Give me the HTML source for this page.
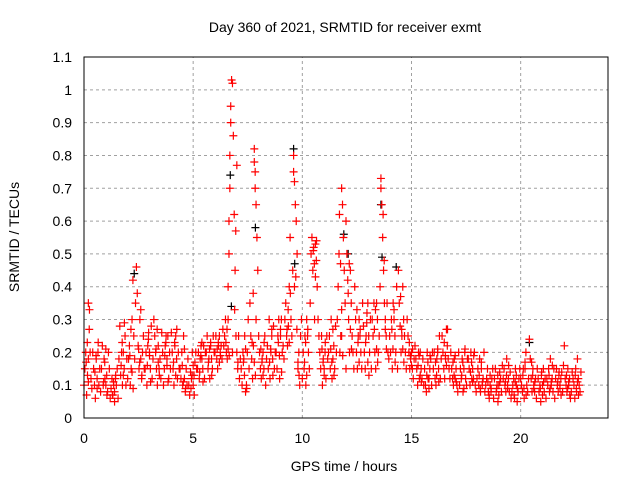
<!DOCTYPE html>
<html><head><meta charset="utf-8"><style>
body{margin:0;background:#fff}
svg{display:block;font-family:"Liberation Sans",sans-serif}
</style></head><body>
<svg id="chart" width="640" height="480">
<text x="345" y="32" text-anchor="middle" font-size="14">Day 360 of 2021, SRMTID for receiver exmt</text>
<text x="344" y="471" text-anchor="middle" font-size="14">GPS time / hours</text>
<text transform="translate(19,237) rotate(-90)" text-anchor="middle" font-size="14">SRMTID / TECUs</text>
<g id="grid"></g><g id="ticks"></g><g id="marks"></g>
<rect x="84" y="57" width="524" height="361" fill="none" stroke="#000" stroke-width="1"/>
</svg>
<script>
const xTicks=[0,5,10,15,20];
const yTicks=[0,0.1,0.2,0.3,0.4,0.5,0.6,0.7,0.8,0.9,1,1.1];
const yTickLabels=["0","0.1","0.2","0.3","0.4","0.5","0.6","0.7","0.8","0.9","1","1.1"];
const groupTimes=[0,0.2,0.4,0.6,0.8,1.0,1.2,1.4,1.6,1.8,2.0,2.2,2.4,2.6,2.8,3.0,3.2,3.4,3.6,3.8,4.0,4.2,4.4,4.6,4.8,5.0,5.2,5.4,5.6,5.8,6.0,6.2,6.4,6.6,6.8,7.0,7.2,7.4,7.6,7.8,8.0,8.2,8.4,8.6,8.8,9.0,9.2,9.4,9.6,9.8,10.0,10.2,10.4,10.6,10.8,11.0,11.2,11.4,11.6,11.8,12.0,12.2,12.4,12.6,12.8,13.0,13.2,13.4,13.6,13.8,14.0,14.2,14.4,14.6,14.8,15.0,15.2,15.4,15.6,15.8,16.0,16.2,16.4,16.6,16.8,17.0,17.2,17.4,17.6,17.8,18.0,18.2,18.4,18.6,18.8,19.0,19.2,19.4,19.6,19.8,20.0,20.2,20.4,20.6,20.8,21.0,21.2,21.4,21.6,21.8,22.0,22.2,22.4,22.6];
const groupValues=[
[0.1,0.15,0.2,0.07,0.13],[0.35,0.27,0.2,0.12,0.09,0.18],[0.2,0.15,0.1,0.06,0.18],[0.12,0.2,0.1,0.15,0.08],[0.15,0.22,0.1,0.18,0.12],
[0.1,0.13,0.08,0.2,0.15],[0.06,0.09,0.12,0.07,0.1],[0.08,0.12,0.1,0.15,0.06],[0.18,0.28,0.13,0.2,0.1],[0.2,0.15,0.25,0.1,0.18],
[0.12,0.18,0.22,0.1,0.15],[0.3,0.42,0.25,0.18,0.35],[0.46,0.38,0.22,0.15,0.3],[0.18,0.12,0.2,0.25,0.15],[0.15,0.2,0.1,0.22,0.26],
[0.2,0.15,0.28,0.12,0.18],[0.3,0.25,0.2,0.15,0.1],[0.22,0.15,0.18,0.12,0.26],[0.2,0.1,0.15,0.22,0.25],[0.18,0.25,0.12,0.2,0.15],
[0.26,0.2,0.15,0.1,0.22],[0.25,0.18,0.12,0.2,0.15],[0.15,0.12,0.2,0.1,0.25],[0.12,0.08,0.15,0.1,0.18],[0.1,0.07,0.14,0.12,0.2],
[0.1,0.13,0.17,0.2,0.15],[0.15,0.2,0.12,0.18,0.22],[0.18,0.15,0.22,0.12,0.2],[0.2,0.25,0.15,0.18,0.12],[0.22,0.18,0.15,0.25,0.2],
[0.2,0.25,0.18,0.15,0.22],[0.25,0.2,0.22,0.18,0.27],[0.22,0.25,0.3,0.2,0.18],[0.4,0.6,0.8,0.95,1.03,0.3,0.5,0.7,0.9],[1.02,0.86,0.62,0.45,0.25,0.2],
[0.2,0.15,0.25,0.12,0.18],[0.15,0.1,0.2,0.18,0.25],[0.08,0.1,0.2,0.3,0.15],[0.35,0.25,0.18,0.12,0.22],[0.82,0.75,0.65,0.55,0.45,0.78,0.7,0.3],
[0.25,0.2,0.15,0.12,0.18],[0.2,0.15,0.25,0.1,0.18],[0.22,0.15,0.3,0.12,0.2],[0.25,0.18,0.28,0.15,0.2],[0.2,0.15,0.25,0.3,0.12],
[0.25,0.3,0.2,0.22,0.18],[0.3,0.35,0.25,0.22,0.28],[0.4,0.55,0.3,0.25,0.45],[0.8,0.72,0.65,0.6,0.5,0.75,0.4],[0.15,0.2,0.1,0.25,0.3],
[0.12,0.2,0.15,0.25,0.1],[0.3,0.25,0.2,0.15,0.35],[0.5,0.55,0.45,0.52,0.3],[0.53,0.48,0.4,0.3,0.25],[0.2,0.15,0.25,0.1,0.18],
[0.15,0.2,0.12,0.25,0.18],[0.2,0.25,0.15,0.3,0.12],[0.18,0.22,0.15,0.28,0.2],[0.3,0.4,0.5,0.2,0.25],[0.7,0.65,0.55,0.45,0.35,0.25],
[0.6,0.5,0.42,0.3,0.2,0.15],[0.45,0.35,0.25,0.2,0.15],[0.4,0.3,0.2,0.15,0.25],[0.3,0.25,0.2,0.15,0.35],[0.28,0.2,0.15,0.25,0.32],
[0.35,0.25,0.2,0.3,0.15],[0.3,0.25,0.35,0.2,0.15],[0.35,0.3,0.2,0.25,0.4],[0.73,0.65,0.55,0.45,0.35,0.7],[0.3,0.25,0.35,0.2,0.18],
[0.25,0.2,0.3,0.15,0.35],[0.3,0.25,0.2,0.4,0.15],[0.45,0.35,0.28,0.2,0.25],[0.4,0.3,0.25,0.2,0.15],[0.3,0.25,0.2,0.15,0.18],
[0.2,0.15,0.12,0.18,0.22],[0.18,0.15,0.1,0.2,0.12],[0.2,0.15,0.12,0.18,0.1],[0.15,0.1,0.08,0.2,0.12],[0.12,0.15,0.18,0.1,0.2],
[0.15,0.2,0.12,0.1,0.18],[0.2,0.15,0.25,0.12,0.18],[0.25,0.2,0.15,0.12,0.18],[0.27,0.22,0.18,0.15,0.12],[0.2,0.15,0.12,0.1,0.18],
[0.12,0.15,0.1,0.08,0.2],[0.1,0.15,0.12,0.18,0.08],[0.15,0.2,0.12,0.1,0.18],[0.18,0.15,0.1,0.2,0.12],[0.15,0.12,0.2,0.1,0.08],
[0.12,0.15,0.1,0.18,0.08],[0.15,0.1,0.12,0.2,0.08],[0.1,0.12,0.15,0.08,0.06],[0.1,0.08,0.12,0.15,0.06],[0.12,0.15,0.08,0.1,0.05],
[0.1,0.14,0.12,0.08,0.16],[0.12,0.15,0.1,0.08,0.18],[0.1,0.12,0.08,0.14,0.06],[0.08,0.1,0.12,0.06,0.15],[0.1,0.05,0.08,0.12,0.15],
[0.12,0.1,0.08,0.15,0.06],[0.15,0.2,0.1,0.08,0.12],[0.24,0.18,0.12,0.08,0.15],[0.1,0.08,0.12,0.06,0.15],[0.12,0.08,0.1,0.05,0.14],
[0.1,0.15,0.08,0.12,0.06],[0.12,0.1,0.15,0.08,0.18],[0.1,0.12,0.08,0.15,0.06],[0.12,0.15,0.1,0.08,0.14],[0.1,0.12,0.14,0.08,0.16],
[0.22,0.12,0.1,0.08,0.15],[0.1,0.12,0.06,0.08,0.14],[0.12,0.1,0.06,0.15,0.08],[0.18,0.12,0.1,0.08,0.14]];
const extraTimes=[0.1,0.5,0.9,1.3,1.7,2.1,2.5,2.9,3.3,3.7,4.1,4.5,4.9,5.3,5.7,6.1,6.5,6.9,7.3,7.7,8.1,8.5,8.9,9.3,9.7,10.1,10.5,10.9,11.3,11.7,12.1,12.5,12.9,13.3,13.7,14.1,14.5,14.9,15.3,15.7,16.1,16.5,16.9,17.3,17.7,18.1,18.5,18.9,19.3,19.7,20.1,20.5,20.9,21.3,21.7,22.1,22.5];
const extraValues=[
[0.17,0.23,0.11,0.33],[0.14,0.19,0.09,0.23],[0.11,0.17,0.21,0.07],[0.07,0.11,0.05,0.13],[0.16,0.23,0.13,0.29],[0.19,0.27,0.14,0.09],[0.21,0.17,0.33,0.13],[0.16,0.24,0.19,0.11],
[0.21,0.27,0.17,0.13],[0.19,0.23,0.16,0.11],[0.17,0.23,0.13,0.27],[0.16,0.11,0.21,0.09],[0.09,0.13,0.16,0.07],[0.14,0.19,0.23,0.11],[0.17,0.21,0.23,0.13],[0.21,0.23,0.17,0.19],
[0.23,0.27,0.21,0.19],[0.33,0.57,0.77,0.17],[0.17,0.13,0.21,0.09],[0.23,0.38,0.17,0.13],[0.21,0.17,0.13,0.23],[0.17,0.21,0.27,0.13],[0.23,0.19,0.27,0.14],[0.27,0.33,0.23,0.38],
[0.43,0.27,0.17,0.13],[0.17,0.23,0.13,0.27],[0.51,0.47,0.43,0.54],[0.21,0.17,0.13,0.23],[0.21,0.17,0.27,0.13],[0.62,0.47,0.33,0.19],[0.38,0.47,0.27,0.21],[0.33,0.23,0.17,0.27],
[0.23,0.29,0.17,0.13],[0.27,0.33,0.21,0.17],[0.62,0.48,0.27,0.21],[0.27,0.21,0.33,0.17],[0.37,0.27,0.21,0.17],[0.23,0.19,0.16,0.21],[0.16,0.19,0.13,0.11],[0.13,0.17,0.09,0.19],
[0.17,0.13,0.21,0.11],[0.23,0.19,0.16,0.27],[0.17,0.13,0.19,0.11],[0.13,0.17,0.09,0.21],[0.14,0.17,0.11,0.19],[0.13,0.09,0.17,0.11],[0.11,0.07,0.13,0.09],[0.09,0.13,0.07,0.11],
[0.11,0.13,0.09,0.16],[0.07,0.11,0.13,0.09],[0.13,0.09,0.17,0.07],[0.17,0.13,0.09,0.11],[0.09,0.13,0.07,0.11],[0.13,0.09,0.11,0.16],[0.11,0.13,0.09,0.07],[0.13,0.09,0.11,0.07],
[0.13,0.09,0.11,0.07]];
const blackTimes=[2.3,6.7,6.75,7.85,9.6,9.65,11.9,12.1,13.6,13.65,14.3,20.4];
const blackValues=[0.44,0.74,0.34,0.58,0.82,0.47,0.56,0.5,0.65,0.49,0.46,0.23];

const X0=84,X1=608,Y0=418,Y1=57,XMAX=24,YMAX=1.1;
const xs=t=>X0+t/XMAX*(X1-X0);
const ys=v=>Y0-v/YMAX*(Y0-Y1);
const NS="http://www.w3.org/2000/svg";
const grid=document.getElementById('grid'),ticks=document.getElementById('ticks'),marks=document.getElementById('marks');
function mk(tag,attrs,parent){const e=document.createElementNS(NS,tag);for(const k in attrs)e.setAttribute(k,attrs[k]);parent.appendChild(e);return e;}
xTicks.forEach(t=>{
  const x=xs(t);
  if(t>0){const g=mk('line',{x1:x,x2:x,y1:Y0,y2:Y1,stroke:'#a0a0a0','stroke-dasharray':'3,3'},grid);
  
  }
  const l=mk('text',{x:x,y:443,'text-anchor':'middle','font-size':14},ticks);l.textContent=t;
  
  
});
yTicks.forEach((v,i)=>{
  const y=ys(v);
  if(v>0&&v<1.1){const g=mk('line',{x1:X0,x2:X1,y1:y,y2:y,stroke:'#a0a0a0','stroke-dasharray':'3,3'},grid);
  
  }
  const l=mk('text',{x:72,y:y+5,'text-anchor':'end','font-size':14},ticks);l.textContent=yTickLabels[i];
  
  
});
function plus(t,v,color){
  const x=xs(t),y=ys(v);
  return mk('path',{d:`M${x-4},${y}H${x+4}M${x},${y-4}V${y+4}`,stroke:color,'stroke-width':1.2,fill:'none'},marks);
}
blackTimes.forEach((t,i)=>{
  const p=plus(t,blackValues[i],'#000');
  
  
});
groupTimes.forEach((t,i)=>{
  groupValues[i].forEach((v,j)=>{
    const p=plus(t+(j%5)*0.04,v,'#ff0000');
    
    
  });
});
extraTimes.forEach((t,i)=>{
  extraValues[i].forEach((v,j)=>{
    const p=plus(t+(j%4)*0.05,v,'#ff0000');
    
    
  });
});
</script>
</body></html>
